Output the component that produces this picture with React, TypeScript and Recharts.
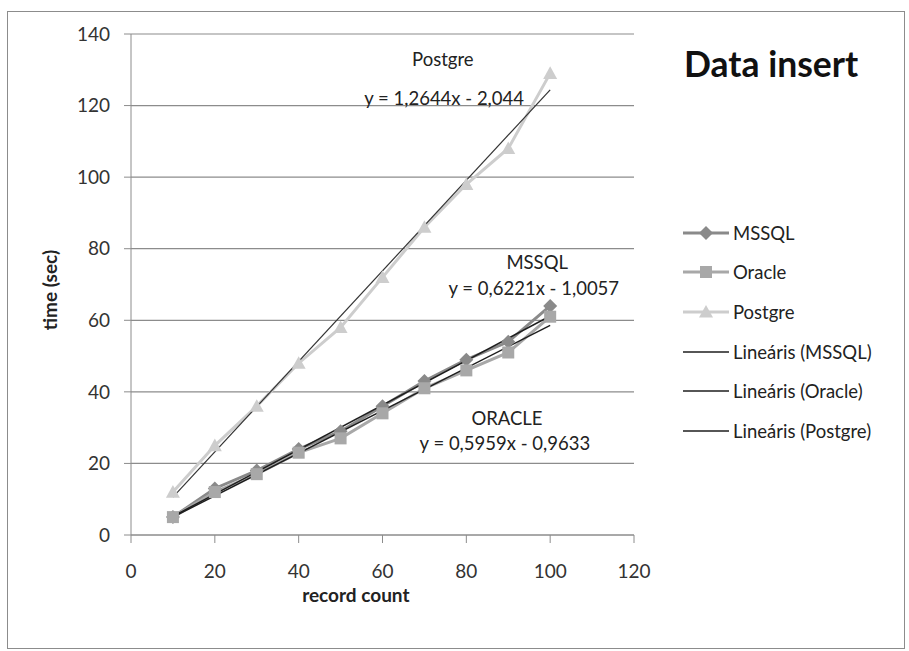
import React from 'react';
import { LineChart, Line, XAxis, YAxis, CartesianGrid, Legend, ReferenceDot } from 'recharts';

// ---- data ----
const recordCounts = [10, 20, 30, 40, 50, 60, 70, 80, 90, 100];
const mssqlTimes = [5, 13, 18, 24, 29, 36, 43, 49, 54, 64];
const oracleTimes = [5, 12, 17, 23, 27, 34, 41, 46, 51, 61];
const postgreTimes = [12, 25, 36, 48, 58, 72, 86, 98, 108, 129];

// trend line end points (x = 10 and x = 100), as drawn
const trendX = [10, 100];
const mssqlTrend = [5.2, 61.2];
const oracleTrend = [5.0, 58.6];
const postgreTrend = [10.6, 124.4];

const xTicks = [0, 20, 40, 60, 80, 100, 120];
const yTicks = [0, 20, 40, 60, 80, 100, 120, 140];

const seriesNames = ['MSSQL', 'Oracle', 'Postgre'];
const trendNames = ['Lineáris (MSSQL)', 'Lineáris (Oracle)', 'Lineáris (Postgre)'];
const equations = ['y = 0,6221x - 1,0057', 'y = 0,5959x - 0,9633', 'y = 1,2644x - 2,044'];
const annotationTitles = ['MSSQL', 'ORACLE', 'Postgre'];

const FONT = "Lato, 'Open Sans', sans-serif";

const toPoints = (xs: number[], ys: number[]) => xs.map((x, i) => ({ x, y: ys[i] }));

const mssqlData = toPoints(recordCounts, mssqlTimes);
const oracleData = toPoints(recordCounts, oracleTimes);
const postgreData = toPoints(recordCounts, postgreTimes);
const mssqlTrendData = toPoints(trendX, mssqlTrend);
const oracleTrendData = toPoints(trendX, oracleTrend);
const postgreTrendData = toPoints(trendX, postgreTrend);

const COLORS = { MSSQL: '#8a8a8a', Oracle: '#a8a8a8', Postgre: '#cdcdcd' } as Record<string, string>;
const TREND = '#1e1e1e';

type Shape = 'diamond' | 'square' | 'triangle';
const SHAPES: Record<string, Shape> = { MSSQL: 'diamond', Oracle: 'square', Postgre: 'triangle' };

function marker(shape: Shape, cx: number, cy: number, color: string, key?: any) {
  if (shape === 'diamond') {
    const s = 7;
    return <path key={key} d={`M${cx},${cy - s}L${cx + s},${cy}L${cx},${cy + s}L${cx - s},${cy}Z`} fill={color} stroke="none" />;
  }
  if (shape === 'square') {
    const s = 6;
    return <rect key={key} x={cx - s} y={cy - s} width={2 * s} height={2 * s} fill={color} stroke="none" />;
  }
  const s = 7;
  return <path key={key} d={`M${cx},${cy - s}L${cx + s},${cy + s * 0.8}L${cx - s},${cy + s * 0.8}Z`} fill={color} stroke="none" />;
}

const makeDot = (name: string) => (props: any) => {
  const { cx, cy, index } = props;
  if (cx == null || cy == null) return <g key={index} />;
  return marker(SHAPES[name], cx, cy, COLORS[name], `${name}-${index}`);
};

const legendOrder = [...seriesNames, ...trendNames];

const LegendContent = (props: any) => {
  const payload = [...(props.payload || [])].sort(
    (a: any, b: any) => legendOrder.indexOf(a.value) - legendOrder.indexOf(b.value)
  );
  return (
    <div style={{ fontFamily: FONT, fontSize: 18.5, color: '#222' }}>
      {payload.map((item: any) => {
        const isSeries = seriesNames.includes(item.value);
        const color = isSeries ? COLORS[item.value] : TREND;
        return (
          <div key={item.value} style={{ height: 39.6, display: 'flex', alignItems: 'center' }}>
            <svg width={46} height={16} style={{ display: 'block' }}>
              <line x1={0} y1={8} x2={46} y2={8} stroke={color} strokeWidth={isSeries ? 3 : 1.5} />
              {isSeries ? marker(SHAPES[item.value], 23, 8, color) : null}
            </svg>
            <span style={{ marginLeft: 4, whiteSpace: 'nowrap' }}>{item.value}</span>
          </div>
        );
      })}
    </div>
  );
};

const annotations = [
  { x: 74.4, y: 133.0, text: annotationTitles[2] },
  { x: 74.7, y: 122.1, text: equations[2] },
  { x: 96.9, y: 76.3, text: annotationTitles[0] },
  { x: 96.1, y: 69.0, text: equations[0] },
  { x: 89.7, y: 32.7, text: annotationTitles[1] },
  { x: 89.2, y: 25.7, text: equations[1] },
];

const tickStyle = { fill: '#333', fontSize: 19, fontFamily: FONT };

export default function App() {
  return (
    <div
      style={{
        position: 'absolute',
        left: 7,
        top: 11,
        width: 896,
        height: 636,
        border: '1px solid #8c8c8c',
        background: '#fff',
      }}
    >
      <div
        style={{
          position: 'absolute',
          left: 676,
          top: 30,
          fontFamily: FONT,
          fontWeight: 700,
          fontSize: 35.5,
          color: '#111',
          whiteSpace: 'nowrap',
          zIndex: 2,
        }}
      >
        Data insert
      </div>
      <LineChart width={896} height={636} margin={{ top: 22, right: 270, bottom: 0, left: 0 }}>
        <CartesianGrid vertical={false} stroke="#8c8c8c" strokeWidth={1.2} />
        <XAxis
          type="number"
          dataKey="x"
          domain={[0, 120]}
          ticks={xTicks}
          interval={0}
          height={113}
          tickSize={8}
          tickMargin={22}
          tick={tickStyle}
          stroke="#8c8c8c"
          allowDuplicatedCategory={false}
          label={(p: any) => {
            const vb = p.viewBox;
            return (
              <text
                x={vb.x + vb.width * 0.447}
                y={vb.y + 60}
                dy="0.35em"
                textAnchor="middle"
                fontFamily={FONT}
                fontWeight={700}
                fontSize={19}
                fill="#222"
              >
                record count
              </text>
            );
          }}
        />
        <YAxis
          type="number"
          domain={[0, 140]}
          ticks={yTicks}
          interval={0}
          width={123}
          tickSize={7}
          tickMargin={14}
          tick={tickStyle}
          stroke="#8c8c8c"
          label={(p: any) => {
            const vb = p.viewBox;
            const cx = 42;
            const cy = vb.y + 256;
            return (
              <text
                x={cx}
                y={cy}
                dy="0.35em"
                textAnchor="middle"
                transform={`rotate(-90, ${cx}, ${cy})`}
                fontFamily={FONT}
                fontWeight={700}
                fontSize={19}
                fill="#222"
              >
                time (sec)
              </text>
            );
          }}
        />
        <Legend
          layout="vertical"
          align="center"
          verticalAlign="middle"
          content={LegendContent}
          wrapperStyle={{ left: 675, top: 201, width: 220 }}
        />
        <Line
          data={mssqlData}
          dataKey="y"
          name={seriesNames[0]}
          stroke={COLORS.MSSQL}
          strokeWidth={3}
          dot={makeDot('MSSQL')}
          activeDot={false}
          isAnimationActive={false}
        />
        <Line
          data={oracleData}
          dataKey="y"
          name={seriesNames[1]}
          stroke={COLORS.Oracle}
          strokeWidth={3}
          dot={makeDot('Oracle')}
          activeDot={false}
          isAnimationActive={false}
        />
        <Line
          data={postgreData}
          dataKey="y"
          name={seriesNames[2]}
          stroke={COLORS.Postgre}
          strokeWidth={3}
          dot={makeDot('Postgre')}
          activeDot={false}
          isAnimationActive={false}
        />
        <Line
          data={mssqlTrendData}
          dataKey="y"
          name={trendNames[0]}
          stroke={TREND}
          strokeWidth={1.5}
          dot={false}
          activeDot={false}
          isAnimationActive={false}
        />
        <Line
          data={oracleTrendData}
          dataKey="y"
          name={trendNames[1]}
          stroke={TREND}
          strokeWidth={1.5}
          dot={false}
          activeDot={false}
          isAnimationActive={false}
        />
        <Line
          data={postgreTrendData}
          dataKey="y"
          name={trendNames[2]}
          stroke="#333"
          strokeWidth={1.2}
          dot={false}
          activeDot={false}
          isAnimationActive={false}
        />
        {annotations.map((a, i) => (
          <ReferenceDot
            key={i}
            x={a.x}
            y={a.y}
            r={0.1}
            fill="none"
            stroke="none"
            ifOverflow="visible"
            label={{ value: a.text, position: 'center', fill: '#222', fontSize: 18.5, fontFamily: FONT }}
          />
        ))}
      </LineChart>
    </div>
  );
}
